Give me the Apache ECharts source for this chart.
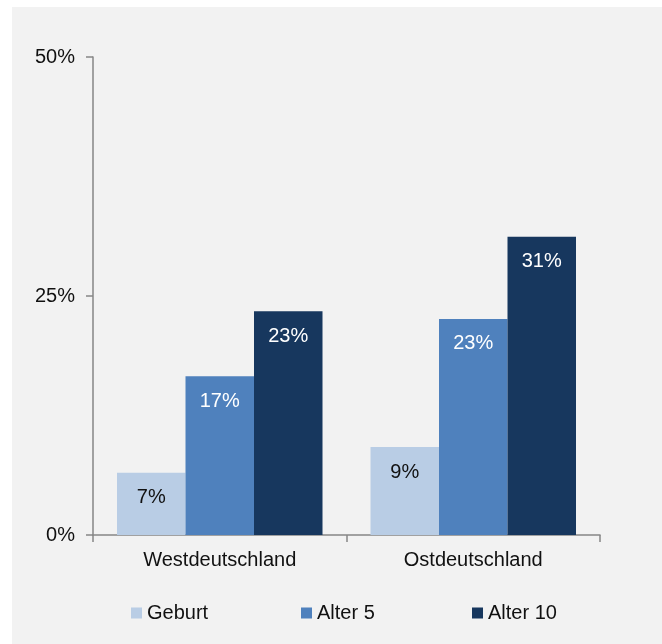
<!DOCTYPE html>
<html>
<head>
<meta charset="utf-8">
<script src="https://cdn.jsdelivr.net/npm/echarts@6/dist/echarts.min.js"></script>
<style>
html,body{margin:0;padding:0;background:#fff;}
#c{width:662px;height:644px;}
</style>
</head>
<body>
<div id="c"></div>
<script>
const categories = ['Westdeutschland', 'Ostdeutschland'];
const seriesNames = ['Geburt', 'Alter 5', 'Alter 10'];
const geburt = [6.5, 9.2];
const alter5 = [16.6, 22.6];
const alter10 = [23.4, 31.2];
const yTicks = [0, 25, 50];

const colors = ['#b9cde5', '#4f81bd', '#17375e'];
const labelColors = ['#111111', '#ffffff', '#ffffff'];
const font = 'Liberation Sans, Arial, sans-serif';
const values = [geburt, alter5, alter10];
const legendLefts = [126, 296, 467];

const chart = echarts.init(document.getElementById('c'));
chart.setOption({
  backgroundColor: '#ffffff',
  animation: false,
  graphic: {
    elements: [{
      type: 'rect', z: -100, silent: true,
      shape: {x: 12, y: 7, width: 650, height: 637},
      style: {fill: '#f2f2f2'}
    }]
  },
  grid: {left: 93, right: 62, top: 57, bottom: 109, containLabel: false},
  legend: seriesNames.map((n, i) => ({
    data: [n], left: legendLefts[i], top: 598,
    itemWidth: 11, itemHeight: 11, itemGap: 0,
    icon: 'rect',
    textStyle: {fontFamily: font, fontSize: 20, color: '#111'}
  })),
  xAxis: {
    type: 'category', data: categories,
    axisLine: {lineStyle: {color: '#868686', width: 1.5}},
    axisTick: {show: true, length: 7, lineStyle: {color: '#868686', width: 1.5}},
    axisLabel: {fontFamily: font, fontSize: 20, color: '#111', margin: 15}
  },
  yAxis: {
    type: 'value', min: yTicks[0], max: yTicks[yTicks.length - 1], interval: 25,
    axisLine: {show: true, lineStyle: {color: '#868686', width: 1.5}},
    axisTick: {show: true, length: 7, lineStyle: {color: '#868686', width: 1.5}},
    splitLine: {show: false},
    axisLabel: {fontFamily: font, fontSize: 20, color: '#111', margin: 18, formatter: '{value}%'}
  },
  series: seriesNames.map((n, i) => ({
    name: n, type: 'bar', data: values[i],
    barWidth: 68.5, barGap: '0%',
    itemStyle: {color: colors[i]},
    label: {
      show: true, position: 'insideTop', distance: 15,
      fontFamily: font, fontSize: 20, color: labelColors[i],
      formatter: p => Math.round(p.value) + '%'
    }
  }))
});
</script>
</body>
</html>
